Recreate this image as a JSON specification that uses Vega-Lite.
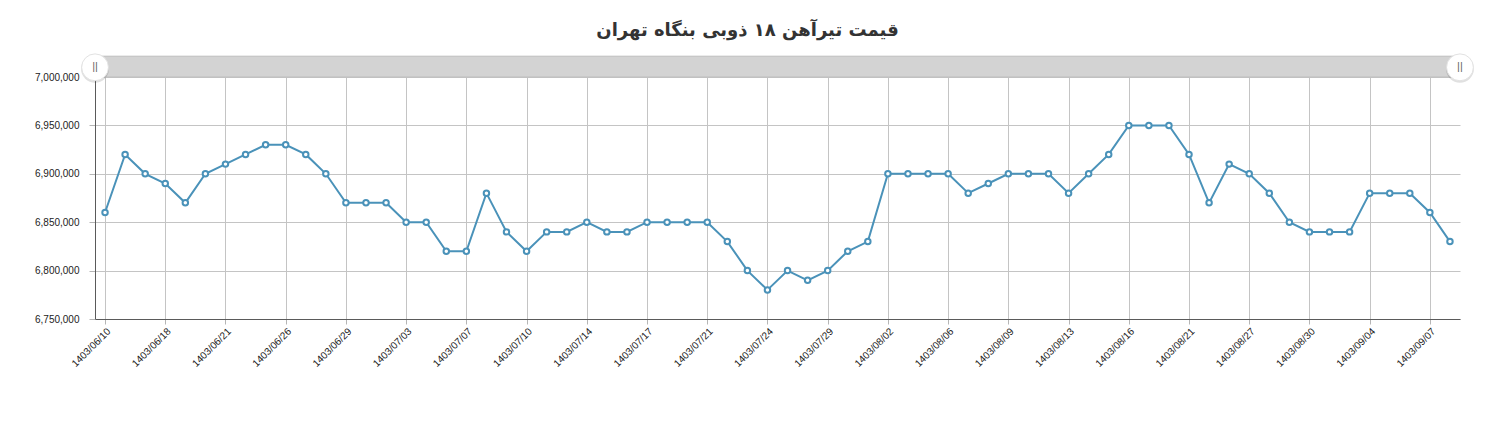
{
  "$schema": "https://vega.github.io/schema/vega-lite/v6.json",
  "autosize": {"type": "none"},
  "width": 1365,
  "height": 242,
  "padding": {"left": 95, "top": 77, "right": 36, "bottom": 112},
  "background": "white",
  "title": {
    "text": "قیمت تیرآهن ۱۸ ذوبی بنگاه تهران",
    "font": "DejaVu Sans",
    "fontSize": 18,
    "fontWeight": "bold",
    "color": "#333333",
    "anchor": "middle",
    "frame": "group",
    "dx": -30,
    "offset": 12
  },
  "config": {
    "view": {"stroke": null},
    "font": "Liberation Sans"
  },
  "data": {
    "values": [
      {"date": "1403/06/10", "price": 6860000},
      {"date": "1403/06/14", "price": 6920000},
      {"date": "1403/06/17", "price": 6900000},
      {"date": "1403/06/18", "price": 6890000},
      {"date": "1403/06/19", "price": 6870000},
      {"date": "1403/06/20", "price": 6900000},
      {"date": "1403/06/21", "price": 6910000},
      {"date": "1403/06/24", "price": 6920000},
      {"date": "1403/06/25", "price": 6930000},
      {"date": "1403/06/26", "price": 6930000},
      {"date": "1403/06/27", "price": 6920000},
      {"date": "1403/06/28", "price": 6900000},
      {"date": "1403/06/29", "price": 6870000},
      {"date": "1403/06/31", "price": 6870000},
      {"date": "1403/07/01", "price": 6870000},
      {"date": "1403/07/03", "price": 6850000},
      {"date": "1403/07/04", "price": 6850000},
      {"date": "1403/07/05", "price": 6820000},
      {"date": "1403/07/07", "price": 6820000},
      {"date": "1403/07/08", "price": 6880000},
      {"date": "1403/07/09", "price": 6840000},
      {"date": "1403/07/10", "price": 6820000},
      {"date": "1403/07/11", "price": 6840000},
      {"date": "1403/07/12", "price": 6840000},
      {"date": "1403/07/14", "price": 6850000},
      {"date": "1403/07/15", "price": 6840000},
      {"date": "1403/07/16", "price": 6840000},
      {"date": "1403/07/17", "price": 6850000},
      {"date": "1403/07/18", "price": 6850000},
      {"date": "1403/07/19", "price": 6850000},
      {"date": "1403/07/21", "price": 6850000},
      {"date": "1403/07/22", "price": 6830000},
      {"date": "1403/07/23", "price": 6800000},
      {"date": "1403/07/24", "price": 6780000},
      {"date": "1403/07/25", "price": 6800000},
      {"date": "1403/07/28", "price": 6790000},
      {"date": "1403/07/29", "price": 6800000},
      {"date": "1403/07/30", "price": 6820000},
      {"date": "1403/08/01", "price": 6830000},
      {"date": "1403/08/02", "price": 6900000},
      {"date": "1403/08/03", "price": 6900000},
      {"date": "1403/08/05", "price": 6900000},
      {"date": "1403/08/06", "price": 6900000},
      {"date": "1403/08/07", "price": 6880000},
      {"date": "1403/08/08", "price": 6890000},
      {"date": "1403/08/09", "price": 6900000},
      {"date": "1403/08/10", "price": 6900000},
      {"date": "1403/08/12", "price": 6900000},
      {"date": "1403/08/13", "price": 6880000},
      {"date": "1403/08/14", "price": 6900000},
      {"date": "1403/08/15", "price": 6920000},
      {"date": "1403/08/16", "price": 6950000},
      {"date": "1403/08/19", "price": 6950000},
      {"date": "1403/08/20", "price": 6950000},
      {"date": "1403/08/21", "price": 6920000},
      {"date": "1403/08/22", "price": 6870000},
      {"date": "1403/08/26", "price": 6910000},
      {"date": "1403/08/27", "price": 6900000},
      {"date": "1403/08/28", "price": 6880000},
      {"date": "1403/08/29", "price": 6850000},
      {"date": "1403/08/30", "price": 6840000},
      {"date": "1403/09/01", "price": 6840000},
      {"date": "1403/09/03", "price": 6840000},
      {"date": "1403/09/04", "price": 6880000},
      {"date": "1403/09/05", "price": 6880000},
      {"date": "1403/09/06", "price": 6880000},
      {"date": "1403/09/07", "price": 6860000},
      {"date": "1403/09/08", "price": 6830000}
    ]
  },
  "layer": [
    {
      "data": {"values": [{"price": 7000000, "top": 7021500}]},
      "mark": {"type": "rect", "fill": "#d3d3d3", "stroke": "#bdbdbd", "strokeWidth": 1},
      "encoding": {
        "y": {"field": "price", "type": "quantitative", "scale": {"domain": [6750000, 7000000], "zero": false, "nice": false}},
        "y2": {"field": "top"}
      }
    },
    {
      "encoding": {
        "x": {
          "field": "date",
          "type": "ordinal",
          "sort": null,
          "scale": {"type": "point", "padding": 0.5},
          "axis": {
            "title": null,
            "values": ["1403/06/10", "1403/06/18", "1403/06/21", "1403/06/26", "1403/06/29", "1403/07/03", "1403/07/07", "1403/07/10", "1403/07/14", "1403/07/17", "1403/07/21", "1403/07/24", "1403/07/29", "1403/08/02", "1403/08/06", "1403/08/09", "1403/08/13", "1403/08/16", "1403/08/21", "1403/08/27", "1403/08/30", "1403/09/04", "1403/09/07"],
            "labelAngle": -45,
            "labelAlign": "right",
            "labelBaseline": "top",
            "labelFontSize": 10,
            "labelColor": "#222222",
            "labelPadding": 2,
            "tickSize": 5,
            "tickColor": "#b5b5b5",
            "grid": true,
            "gridColor": "#c4c4c4",
            "gridWidth": 1,
            "domainColor": "#5a5a5a",
            "domainWidth": 1
          }
        },
        "y": {
          "field": "price",
          "type": "quantitative",
          "scale": {"domain": [6750000, 7000000], "zero": false, "nice": false},
          "axis": {
            "title": null,
            "values": [6750000, 6800000, 6850000, 6900000, 6950000, 7000000],
            "format": ",.0f",
            "labelFontSize": 10,
            "labelColor": "#222222",
            "labelPadding": 10,
            "tickSize": 6,
            "tickColor": "#b5b5b5",
            "grid": true,
            "gridColor": "#c4c4c4",
            "gridWidth": 1,
            "domainColor": "#5a5a5a",
            "domainWidth": 1
          }
        }
      },
      "layer": [
        {
          "mark": {
            "type": "line",
            "color": "#4a92b9",
            "strokeWidth": 2,
            "point": {"filled": false, "fill": "white", "stroke": "#4a92b9", "strokeWidth": 2, "size": 30, "opacity": 1}
          }
        },
        {
          "data": {"values": [{"date": "1403/06/10", "price": 7010000}]},
          "layer": [
            {"mark": {"type": "point", "filled": true, "color": "#000000", "opacity": 0.12, "size": 780, "xOffset": -10, "yOffset": 1.5}},
            {"mark": {"type": "point", "filled": true, "fill": "white", "stroke": "#e2e2e2", "strokeWidth": 1, "opacity": 1, "size": 720, "xOffset": -10}},
            {"mark": {"type": "text", "text": "||", "fontSize": 11, "color": "#666666", "xOffset": -10, "baseline": "middle", "align": "center"}}
          ]
        },
        {
          "data": {"values": [{"date": "1403/09/08", "price": 7010000}]},
          "layer": [
            {"mark": {"type": "point", "filled": true, "color": "#000000", "opacity": 0.12, "size": 780, "xOffset": 10, "yOffset": 1.5}},
            {"mark": {"type": "point", "filled": true, "fill": "white", "stroke": "#e2e2e2", "strokeWidth": 1, "opacity": 1, "size": 720, "xOffset": 10}},
            {"mark": {"type": "text", "text": "||", "fontSize": 11, "color": "#666666", "xOffset": 10, "baseline": "middle", "align": "center"}}
          ]
        }
      ]
    }
  ]
}
